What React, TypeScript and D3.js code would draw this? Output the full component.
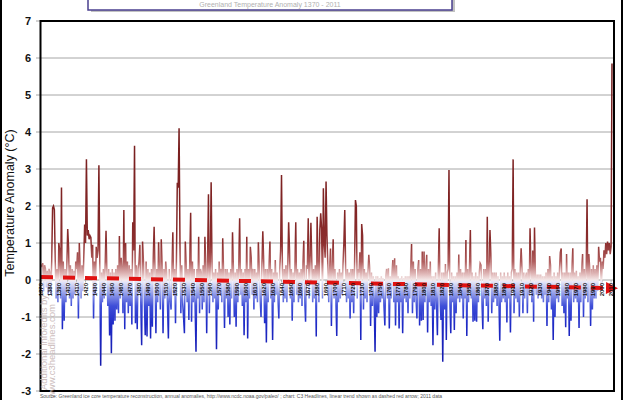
import React from 'react';
import * as d3 from 'd3';

const W = 623;
const H = 400;

// Annual temperature anomaly (°C), first year 1370
const startYear = 1370;
const seg1370 = [
  0.35, 0.4, 0.45, -0.3, 0.4, 0.3, -0.2, 0.25, -0.4, 0.3,
  0.2, -0.4, 0.5, 1.95, 2.0, 1.9, 0.5, -0.5, 0.3, -0.6,
  1.0, 0.8, -0.5, 2.5, -1.33, 0.5, -1.1, 0.3, -0.6, 0.4,
  1.38, 0.85, -0.5, 0.4, -0.7, 0.3, -0.5, 0.25, -0.4, 0.5,
  0.3, 0.75, -1.04, 1.0, 0.3, -0.5, 0.4, -0.3, 0.6, 1.5,
  1.0, 3.26, 1.2, 1.35, 1.1, 1.2, 1.15, 0.6, 0.95, -1.04,
  0.5, -0.4, 0.9, 0.6, 0.8, 3.1, 0.4, -2.32, 0.2, -0.6,
  0.3, -0.5, 0.4, 1.33, 0.2, -0.7, 0.3, -1.5, 0.2, -1.98,
  0.3, -1.2, 0.2, -1.1, 0.3, -0.8, 0.4, -0.9, 1.19, -0.5,
  0.6, 0.3, -0.9, 1.89, -1.33, 1.0, -0.6, 0.5, -0.9, 0.4,
];
const seg1470 = [
  -0.7, 0.3, -1.2, 1.56, 0.8, 3.63, -1.17, 0.4, -1.33, 0.3,
  0.5, 0.95, -0.6, -1.76, 1.04, 0.5, -0.5, -1.49, 0.5, -1.53,
  0.3, -0.7, 0.2, -1.58, 0.3, -1.26, 0.6, 1.44, 0.2, -1.44,
  0.3, -0.6, 1.02, 0.2, -0.8, 1.1, 0.4, -1.44, 0.3, -0.5,
  0.5, 0.2, -0.7, -1.58, 0.3, -0.5, -0.8, 0.3, 1.29, -0.4,
  0.3, -1.17, 0.5, 2.63, 2.5, 4.1, 1.0, -0.9, 0.4, -0.6,
  -1.0, -1.44, 1.04, 0.4, -0.6, 0.3, -1.08, 0.5, 1.82, -1.13,
  0.5, -0.6, 0.3, -0.7, -1.94, 0.3, -0.5, 1.17, -0.9, 0.3,
  0.2, -0.8, 0.4, -0.6, 1.17, 0.3, -1.44, 0.5, 2.32, -0.9,
  0.4, 2.64, 0.4, -0.6, 0.2, -0.5, 0.3, -1.87, 0.2, -0.8,
];
const seg1570 = [
  0.5, -0.4, 0.3, -0.6, 1.13, 0.2, -1.3, 0.3, -0.5, 0.3,
  -1.0, 0.2, -1.2, 0.3, -0.5, 1.29, 0.3, -1.0, 0.2, -1.26,
  0.3, -0.6, 0.4, 1.67, -0.4, 0.3, -0.7, 0.2, -1.49, 0.3,
  -0.6, 1.17, -1.58, 0.3, -0.5, 0.9, 0.6, -0.4, 0.3, -0.8,
  0.3, -0.5, 0.2, -0.6, 1.02, 0.3, -0.5, -1.0, 0.4, 1.32,
  0.5, -1.17, 0.3, -1.69, 0.3, -0.6, 0.4, 1.04, -0.5, 0.3,
  -1.62, 0.2, -0.6, 0.54, -0.4, 0.2, -0.5, -1.04, 0.3, 0.8,
  2.84, 0.3, -0.6, 0.3, -0.5, 0.4, -0.6, 0.3, 1.56, 0.8,
  -0.5, 0.3, -1.1, 0.2, -0.6, 0.3, 1.56, -0.4, 0.3, -0.6,
  0.2, -0.5, 0.3, -0.7, 0.4, 1.06, -0.5, -1.13, 0.4, 0.3,
];
const seg1670 = [
  1.67, -0.5, 0.5, 1.55, 0.5, -0.6, 0.3, -0.5, 0.4, -1.53,
  1.71, 0.4, -0.6, 1.35, 1.8, 1.4, -0.5, 2.48, 1.0, 0.6,
  2.66, 1.2, 0.4, -0.6, 0.3, 0.85, -1.24, 0.4, 1.1, -0.5,
  0.3, -0.5, -1.51, 0.2, -0.6, 0.3, -0.5, 0.2, -0.4, 0.4,
  1.0, 1.89, 0.3, -0.6, 0.3, -0.5, 0.2, -1.04, 0.3, -0.6,
  0.3, -0.9, 0.4, 2.16, 2.0, -0.5, 0.3, 0.2, 0.75, -1.62,
  1.51, 1.2, -0.8, 0.3, -0.5, 0.2, -0.6, 0.2, 0.68, 0.3,
  -1.24, 0.2, -0.7, 0.1, -0.5, -1.94, 0.1, -1.0, 0.1, -0.9,
  0.05, -0.6, 0.1, -0.5, 0.05, -0.7, -1.23, 0.1, 0.3, -0.5,
  0.32, -1.31, 0.1, -0.5, 0.2, 0.54, -0.6, 0.59, -1.23, 0.4,
];
const seg1770 = [
  -0.6, 0.1, -1.31, 0.05, -0.6, 0.1, -1.44, 0.05, -0.5, 0.1,
  -0.6, 0.1, -0.9, 0.1, -0.5, 0.3, 0.97, -0.9, 0.5, -0.6,
  0.3, -0.5, -1.04, 0.3, 0.54, -1.23, 0.3, -1.1, 0.77, -1.08,
  0.77, -0.6, 0.3, 0.68, -1.42, 0.3, -0.6, 0.5, -0.7, 0.1,
  -1.76, 0.1, -0.8, 0.2, -0.6, -1.49, 0.3, 1.4, -0.5, -1.08,
  0.2, -2.21, 0.2, -0.8, 0.43, -1.62, 0.2, 0.3, 2.97, -0.6,
  -1.44, 0.2, -0.6, 0.1, -1.35, 0.1, -0.9, 0.2, -0.5, 0.69,
  -0.6, 0.3, -0.5, 0.2, -1.04, 0.2, -0.5, 1.08, -1.51, 0.3,
  -0.6, 0.3, 1.35, -0.5, 0.2, -1.13, 0.1, -1.1, 0.2, -1.13,
  0.1, -0.6, 0.2, 0.45, 0.4, -0.6, -1.33, 0.3, -0.5, 0.3,
];
const seg1870 = [
  -0.7, 1.71, -1.13, 0.3, 1.35, 0.7, -0.9, 0.2, -0.6, 0.2,
  -0.5, 0.2, -0.7, 0.1, -0.5, -1.64, 0.2, -0.6, 0.1, -0.5,
  0.2, -0.6, 0.1, -1.15, 0.2, -0.5, 0.1, -1.42, 0.2, 0.3,
  3.26, -0.9, 0.3, -0.5, 0.2, -0.6, 0.2, -0.99, 0.3, 0.86,
  0.3, -0.9, 0.2, -0.5, 0.1, 0.2, -0.9, 0.3, -0.4, 1.4,
  0.3, -0.6, 0.8, -1.13, 1.42, 0.15, -0.4, 0.15, -0.5, 0.15,
  -0.4, 0.15, -0.5, 0.1, -0.6, 0.1, -0.4, 0.2, -1.24, 0.3,
  -0.6, 0.65, 0.4, -0.8, 0.1, -1.62, 0.2, -1.0, 0.1, -0.5,
  0.2, -0.6, 0.25, 0.75, 0.85, -0.7, 0.2, -0.9, 0.2, -1.28,
  0.7, -0.5, 0.2, -1.51, 0.2, -1.1, 0.3, 0.86, -0.6, 0.2,
];
const seg1970 = [
  -0.5, 0.25, -0.6, 0.1, -1.3, 0.2, -0.6, 0.3, 0.7, -1.0,
  0.3, -0.5, 0.2, 2.18, -0.6, 0.7, 0.3, -1.24, 0.3, -0.8,
  0.4, -0.5, 0.3, -0.5, 0.4, -0.3, 0.9, 0.5, 0.6, -0.3,
  0.5, 0.3, 0.8, 0.6, 1.0, 0.7, 1.04, 0.8, 1.0, 0.7,
  0.9, 5.85,
];

const values: number[] = [
  ...seg1370, ...seg1470, ...seg1570, ...seg1670, ...seg1770, ...seg1870, ...seg1970,
];
const years: number[] = values.map((_, i) => startYear + i);

const yTicks = [-3, -2, -1, 0, 1, 2, 3, 4, 5, 6, 7];
const xLabelYears = years.filter((yr) => yr % 10 === 0);

// linear trend (dashed red arrow)
const trendYears = [1370, 2011];
const trendValues = [0.08, -0.22];

const gradientStops = [
  { v: 7, c: '#6a1616' },
  { v: 2, c: '#802424' },
  { v: 1, c: '#8c2e2e' },
  { v: 0.5, c: '#b05e5e' },
  { v: 0.15, c: '#e2bcbc' },
  { v: 0.0, c: '#f4e8e8' },
  { v: -0.05, c: '#e6e6f8' },
  { v: -0.3, c: '#a4acec' },
  { v: -0.7, c: '#3e4ed8' },
  { v: -1.2, c: '#1e2ac6' },
  { v: -3, c: '#10109c' },
];

export default function App() {
  const left = 41;
  const right = 612;
  const x = d3.scalePoint<number>().domain(years).range([left, right]);
  const y = d3.scaleLinear().domain([-3, 7]).range([391, 21]);

  const line = d3
    .line<number>()
    .x((_, i) => x(years[i]) as number)
    .y((d) => y(d));

  const trendLine = d3
    .line<number>()
    .x((_, i) => x(trendYears[i]) as number)
    .y((d) => y(d));

  const plotL = 40.5;
  const plotR = 614;
  const plotT = y(7);
  const plotB = y(-3);

  return (
    <svg
      width={W}
      height={H}
      style={{ position: 'absolute', left: 0, top: 0, background: '#fff' }}
      fontFamily="Arial, 'Liberation Sans', sans-serif"
    >
      <defs>
        <linearGradient id="tg" gradientUnits="userSpaceOnUse" x1={0} x2={0} y1={y(7)} y2={y(-3)}>
          {gradientStops.map((s, i) => (
            <stop key={i} offset={(7 - s.v) / 10} stopColor={s.c} />
          ))}
        </linearGradient>
        <clipPath id="plotClip">
          <rect x={plotL} y={plotT} width={plotR - plotL} height={plotB - plotT} />
        </clipPath>
        <marker
          id="arrow"
          viewBox="0 0 10 10"
          refX={5}
          refY={5}
          markerWidth={14}
          markerHeight={12}
          markerUnits="userSpaceOnUse"
          orient="auto"
        >
          <path d="M0,0 L10,5 L0,10 z" fill="#e01212" />
        </marker>
      </defs>

      <rect x={0} y={0} width={W} height={H} fill="#fff" />
      {/* outer frame */}
      <rect x={1} y={-10} width={621} height={420} fill="none" stroke="#000" strokeWidth={2} />

      {/* title box (cut off at top) */}
      <rect x={91} y={-28} width={364} height={40} fill="#9a9a9a" opacity={0.6} />
      <rect x={88} y={-30} width={364} height={40} fill="#fff" stroke="#4a3f8f" strokeWidth={1.5} />
      <text x={270} y={7} textAnchor="middle" fontSize={7} fill="#b0b0b0">
        Greenland Temperature Anomaly 1370 - 2011
      </text>

      {/* gridlines */}
      {yTicks.map((t) => (
        <line
          key={t}
          x1={36}
          x2={plotR}
          y1={y(t)}
          y2={y(t)}
          stroke="#a6a6a6"
          strokeWidth={1}
        />
      ))}

      {/* zero axis ticks */}
      {xLabelYears.map((yr) => (
        <line
          key={'t' + yr}
          x1={x(yr)}
          x2={x(yr)}
          y1={y(0)}
          y2={y(0) + 2.5}
          stroke="#999"
          strokeWidth={0.7}
        />
      ))}

      {/* data */}
      <g clipPath="url(#plotClip)">
        <path d={line(values) || ''} fill="none" stroke="url(#tg)" strokeWidth={1.5} />
      </g>

      {/* trend */}
      <path
        d={trendLine(trendValues) || ''}
        fill="none"
        stroke="#e01212"
        strokeWidth={4}
        strokeDasharray="12 10"
        markerEnd="url(#arrow)"
      />

      {/* x labels */}
      {xLabelYears.map((yr) => (
        <text
          key={'l' + yr}
          transform={`translate(${(x(yr) as number) + 2.2},${y(0) + 3}) rotate(-90)`}
          textAnchor="end"
          fontSize={6}
          fontWeight="bold"
          fill="#111"
        >
          {yr}
        </text>
      ))}

      {/* plot border */}
      <rect
        x={plotL}
        y={plotT}
        width={plotR - plotL}
        height={plotB - plotT}
        fill="none"
        stroke="#000"
        strokeWidth={2}
      />

      {/* y tick labels */}
      {yTicks.map((t) => (
        <text
          key={'y' + t}
          x={31}
          y={y(t) + 4}
          textAnchor="end"
          fontSize={11}
          fontWeight="bold"
          fill="#111"
        >
          {t}
        </text>
      ))}

      {/* y title */}
      <text
        transform={`translate(14,${203}) rotate(-90)`}
        textAnchor="middle"
        fontSize={12.5}
        fill="#111"
      >
        Temperature Anomaly (°C)
      </text>

      {/* watermark */}
      <g fill="#c4b2b2" opacity={0.85} fontSize={9.5}>
        <text transform="translate(47,390) rotate(-90)">Additional info/edits by</text>
        <text transform="translate(55,398) rotate(-90)">www.c3headlines.com</text>
      </g>

      {/* source note */}
      <text x={40} y={398} fontSize={5} fill="#555">
        Source: Greenland ice core temperature reconstruction, annual anomalies, http://www.ncdc.noaa.gov/paleo/ ; chart: C3 Headlines, linear trend shown as dashed red arrow; 2011 data
      </text>
    </svg>
  );
}
